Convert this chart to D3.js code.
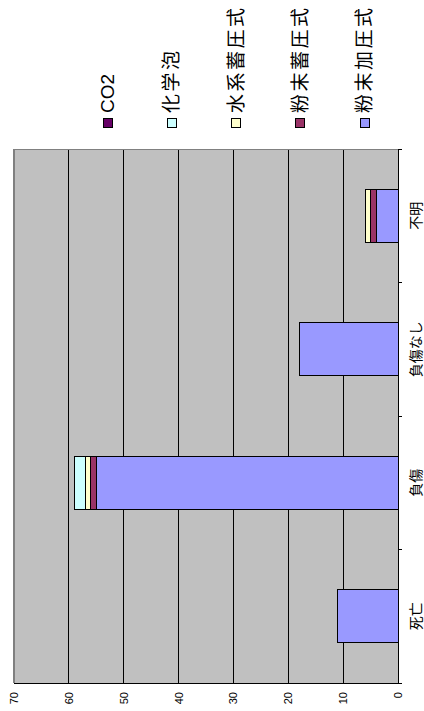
<!DOCTYPE html>
<html><head><meta charset="utf-8">
<script src="https://cdn.jsdelivr.net/npm/d3@7"></script>
<style>html,body{margin:0;padding:0;background:#fff;}svg{display:block;}</style>
</head><body>
<script>
const categories = ["死亡", "負傷", "負傷なし", "不明"];
const seriesNames = ["粉末加圧式", "粉末蓄圧式", "水系蓄圧式", "化学泡", "CO2"];
const powderPressurized = [11, 55, 18, 4];
const powderStored = [0, 1, 0, 1];
const waterStored = [0, 1, 0, 1];
const chemicalFoam = [0, 2, 0, 0];
const co2 = [0, 0, 0, 0];
const valueTicks = [0, 10, 20, 30, 40, 50, 60, 70];
const seriesColors = ["#9999FF", "#993366", "#FFFFCC", "#CCFFFF", "#660066"];

const seriesValues = [powderPressurized, powderStored, waterStored, chemicalFoam, co2];
const rows = categories.map((c, i) => {
  const r = {cat: c};
  seriesNames.forEach((s, j) => r[s] = seriesValues[j][i]);
  return r;
});

const W = 424, H = 711;
const svg = d3.select("body").append("svg").attr("width", W).attr("height", H);
// chart is drawn in landscape and rotated -90deg
const g = svg.append("g").attr("transform", `translate(0,${H}) rotate(-90)`);
const font = "'Liberation Sans', Arial, 'Noto Sans CJK JP', sans-serif";

const plot = {l: 28, r: 562, t: 14, b: 398};
const x = d3.scaleBand().domain(categories).range([plot.l, plot.r]).paddingInner(0.6).paddingOuter(0.3);
const y = d3.scaleLinear().domain([0, 70]).range([plot.b, plot.t]);
const color = d3.scaleOrdinal().domain(seriesNames).range(seriesColors);

g.append("rect").attr("x", plot.l).attr("y", plot.t).attr("width", plot.r - plot.l).attr("height", plot.b - plot.t).attr("fill", "#C0C0C0");

// gridlines
g.append("g").selectAll("line").data(valueTicks.filter(v => v > 0 && v < 70)).join("line")
  .attr("x1", plot.l).attr("x2", plot.r).attr("y1", d => y(d)).attr("y2", d => y(d))
  .attr("stroke", "#000").attr("stroke-width", 1).attr("shape-rendering", "crispEdges");

// plot border (top / right)
g.append("line").attr("x1", plot.l).attr("x2", plot.r).attr("y1", plot.t).attr("y2", plot.t).attr("stroke", "#808080").attr("stroke-width", 2);
g.append("line").attr("x1", plot.r).attr("x2", plot.r).attr("y1", plot.t).attr("y2", plot.b).attr("stroke", "#808080").attr("stroke-width", 1).attr("shape-rendering", "crispEdges");

// stacked bars
const stacked = d3.stack().keys(seriesNames)(rows);
g.append("g").selectAll("g").data(stacked).join("g").attr("fill", d => color(d.key))
  .selectAll("rect").data(d => d.filter(p => p[1] - p[0] > 0)).join("rect")
  .attr("x", d => x(d.data.cat)).attr("width", x.bandwidth())
  .attr("y", d => y(d[1])).attr("height", d => y(d[0]) - y(d[1]))
  .attr("stroke", "#000").attr("stroke-width", 1).attr("shape-rendering", "crispEdges");

// value axis (left in landscape)
const yAxis = g.append("g").attr("transform", `translate(${plot.l},0)`)
  .call(d3.axisLeft(y).tickValues(valueTicks).tickSize(0).tickPadding(9));
yAxis.select(".domain").remove();
yAxis.selectAll("text").attr("font-family", font).attr("font-size", 11).attr("fill", "#000");
g.append("line").attr("x1", plot.l).attr("x2", plot.l).attr("y1", plot.t).attr("y2", plot.b).attr("stroke", "#000").attr("stroke-width", 1).attr("shape-rendering", "crispEdges");

// category axis (bottom in landscape)
const step = x.step();
const bounds = d3.range(categories.length + 1).map(i => plot.l + i * step);
g.append("line").attr("x1", plot.l).attr("x2", plot.r).attr("y1", plot.b).attr("y2", plot.b).attr("stroke", "#000").attr("stroke-width", 1).attr("shape-rendering", "crispEdges");
g.append("g").selectAll("line").data(bounds).join("line")
  .attr("x1", d => d).attr("x2", d => d).attr("y1", plot.b).attr("y2", plot.b + 4)
  .attr("stroke", "#000").attr("shape-rendering", "crispEdges");
g.append("g").selectAll("text").data(categories).join("text")
  .attr("x", d => x(d) + x.bandwidth() / 2).attr("y", plot.b + 18)
  .attr("text-anchor", "middle").attr("dominant-baseline", "central")
  .attr("font-family", font).attr("font-size", 14).attr("fill", "#000").text(d => d);

// legend (right in landscape)
const legendNames = seriesNames.slice().reverse();
const leg = g.append("g").selectAll("g").data(legendNames).join("g")
  .attr("transform", (d, i) => `translate(584,${107.5 + i * 64.3})`);
leg.append("rect").attr("x", 0).attr("y", -4.5).attr("width", 9).attr("height", 9)
  .attr("fill", d => color(d)).attr("stroke", "#000").attr("stroke-width", 1).attr("shape-rendering", "crispEdges");
leg.append("text").attr("x", 14).attr("y", 0).attr("dominant-baseline", "central")
  .attr("font-family", font).attr("font-size", 19)
  .attr("letter-spacing", d => /^[\x00-\x7f]+$/.test(d) ? 0 : 2.5)
  .attr("fill", "#000").text(d => d);
</script>
</body></html>
